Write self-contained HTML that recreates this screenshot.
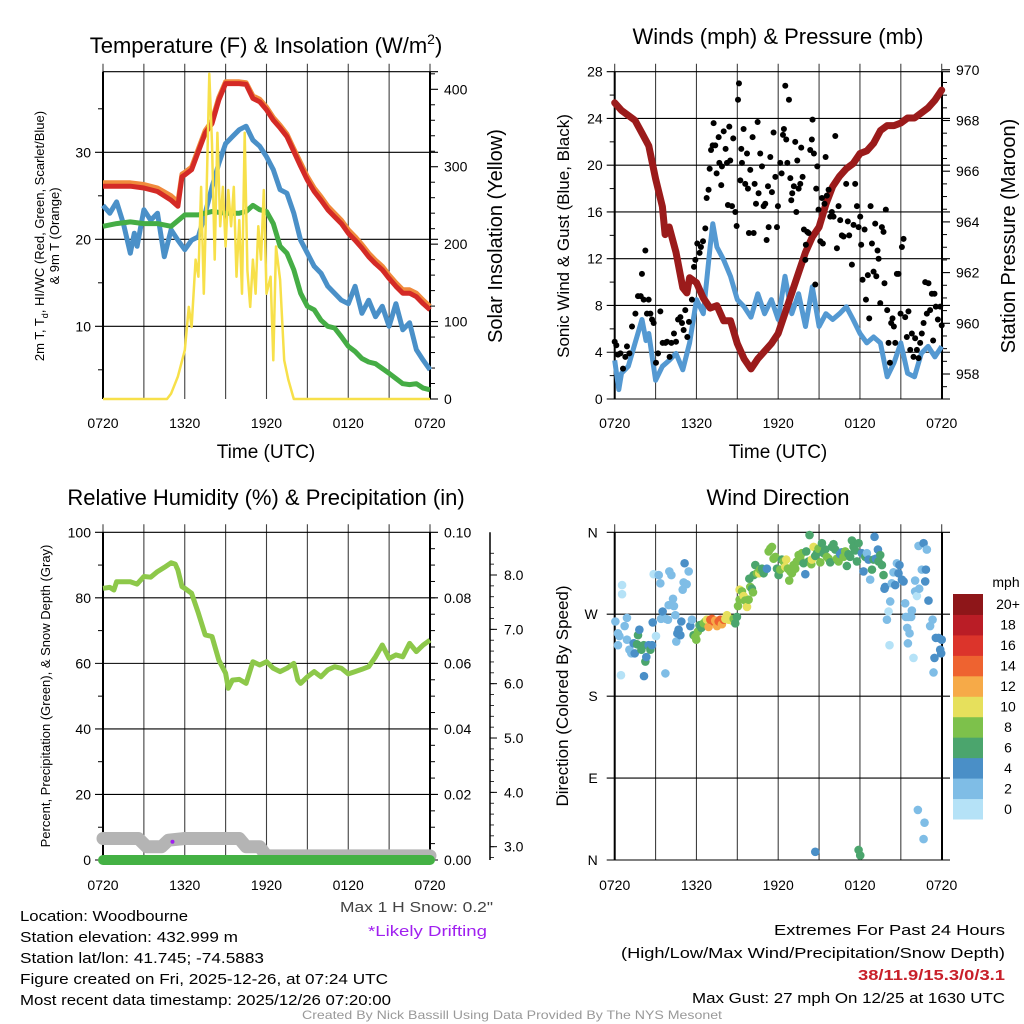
<!DOCTYPE html>
<html><head><meta charset="utf-8"><title>NYS Mesonet Woodbourne meteogram</title>
<style>
html,body{margin:0;padding:0;background:#fff;}
svg{display:block;font-family:"Liberation Sans",Arial,sans-serif;}
</style></head>
<body>
<svg id="fig" width="1024" height="1024" viewBox="0 0 1024 1024" xmlns="http://www.w3.org/2000/svg">
<rect width="1024" height="1024" fill="#fff"/>
</svg>
<script>
// ---------- DATA ----------
const xTickLabels = ["0720","1320","1920","0120","0720"];
const xTickHours = [0,6,12,18,24];

const tempTimes = [0,2,3,4,5,5.5,5.8,6,6.5,7,7.5,8,8.5,9,9.5,10,10.5,11,11.5,12,12.5,13,13.5,14,14.5,15,15.5,16,16.5,17,17.5,18,18.5,19,19.5,20,20.5,21,21.5,22,22.5,23,23.5,24];
const tempValues = [26.1,26.1,25.9,25.5,24.5,23.8,27.2,27.4,28,30.1,32.2,33.3,36,37.9,37.9,37.9,37.8,36.2,35.8,34.9,33.7,32.8,31.8,30.1,28.4,26.8,25.5,24.5,23.4,22.6,21.8,20.7,19.9,19,18,17.2,16.5,15.5,14.6,13.8,13.8,13.4,12.6,11.9];
const temp9mValues = [26.5,26.5,26.3,25.9,25,24.3,27.5,27.7,28.3,30.4,32.5,33.6,36.3,38.1,38.1,38.1,38,36.5,36.1,35.2,34,33.1,32.1,30.4,28.8,27.2,25.9,24.9,23.8,23,22.2,21.1,20.3,19.4,18.4,17.6,16.9,15.9,15,14.2,14.2,13.8,13,12.3];
const wcTimes = [0,0.5,1,1.5,2,2.3,2.5,3,3.5,4,4.5,5,5.5,6,6.5,7,7.5,8,8.5,9,9.5,10,10.5,11,11.5,12,12.5,13,13.5,14,14.5,15,15.5,16,16.5,17,17.5,18,18.5,19,19.5,20,20.5,21,21.5,22,22.5,23,23.5,24];
const wcValues = [23.9,23,24.3,21.8,18.4,20.7,19.2,23.4,22.2,23,18,21.1,19.9,18.8,19.9,20.3,23,26,28.7,31,31.8,32.6,33,31.4,30.7,29.5,28,25.7,25.3,23,19.9,18.4,16.9,16.1,14.6,13.8,13,12.6,14.6,11.5,13,11.1,12.3,10,12.6,9.6,10.4,7.3,6.1,5];
const dewTimes = [0,1,2,3,4,5,6,7,7.5,8,9,10,10.5,11,11.5,12,12.5,13,13.5,14,14.5,15,15.5,16,16.5,17,17.5,18,18.5,19,19.5,20,21,21.5,22,22.5,23,23.5,24];
const dewValues = [21.5,21.8,22,21.8,21.8,21.5,22.8,22.8,23,23.2,23,23,23.2,23.9,23.4,23.2,21.8,19.2,18.4,16.5,13.8,12.3,11.9,10.7,10,9.8,8.8,7.7,7.1,6.3,5.9,5.7,4.6,4,3.4,3.3,3.4,2.9,2.7];
const solarTimes = [0,4.7,5,5.5,6,6.3,6.5,6.8,7,7.2,7.4,7.6,7.8,8,8.2,8.4,8.6,8.8,9,9.2,9.4,9.6,9.8,10,10.2,10.4,10.6,10.8,11,11.2,11.4,11.6,11.8,12,12.3,12.5,12.7,13,13.3,13.6,14,24];
const solarValues = [0,0,7,29,63,119,93,180,158,274,136,266,420,330,180,344,223,274,197,270,223,274,158,231,136,344,166,119,180,136,223,180,270,136,158,50,197,154,50,25,0,0];

const presTimes = [0,0.5,1,1.5,2,2.5,3,3.5,3.7,4,4.5,5,5.3,5.5,6,6.5,7,7.5,8,8.5,9,9.5,10,10.5,11,11.5,12,12.5,13,13.5,14,14.5,15,15.5,16,16.5,17,17.5,18,18.5,19,19.5,20,20.5,21,21.5,22,22.5,23,23.5,24];
const presValues = [968.7,968.4,968.2,968,967.5,967,965.7,964.6,963.5,963.8,962.8,961.4,961.2,961.8,961.6,961,960.6,960.7,960.1,960.1,959.2,958.6,958.2,958.6,958.9,959.2,959.6,960.4,961.2,962,962.8,963.4,963.8,964.7,965.4,965.8,966.1,966.3,966.7,966.8,967.1,967.6,967.8,967.8,967.9,968.1,968.1,968.3,968.5,968.8,969.2];
const windTimes = [0,0.3,0.5,1,1.5,2,2.3,2.5,3,3.5,4,4.5,5,5.5,6,6.5,7,7.2,7.5,8,8.5,9,9.5,10,10.5,11,11.5,12,12.5,13,13.5,14,14.5,15,15.5,16,16.5,17,17.5,18,18.5,19,19.5,20,20.5,21,21.5,22,22.5,23,23.5,24];
const windValues = [3.3,0.8,2.2,2.8,4.8,6.8,5,5.6,1.6,2.8,3.3,3.9,2.5,4.8,8.5,7.3,13,15,13,11.9,10.5,8.5,7.9,7,9,7.3,8.5,6.8,10.5,7.3,9,6.2,9.6,6.2,7.3,6.8,7.3,7.9,6.8,5.6,4.8,5.3,4.8,1.9,3.1,4.8,2.2,1.9,3.9,4.5,3.6,4.5];
const gustTimes = [0,0.12,0.24,0.42,0.61,0.78,0.9,1.08,1.27,1.52,1.71,1.91,2,2.13,2.25,2.37,2.49,2.62,2.74,2.86,3.03,3.18,3.35,3.52,3.72,3.84,4.03,4.16,4.35,4.5,4.65,4.82,4.94,5.06,5.18,5.33,5.45,5.67,5.82,5.92,6.06,6.23,6.33,6.48,6.65,6.75,6.89,6.97,7.07,7.19,7.26,7.38,7.48,7.63,7.68,7.82,7.87,8,8.14,8.24,8.31,8.41,8.48,8.61,8.7,8.85,8.95,9.05,9.12,9.22,9.29,9.34,9.46,9.58,9.71,9.78,9.85,9.95,10.12,10.2,10.27,10.37,10.49,10.56,10.68,10.81,10.93,11.05,11.15,11.25,11.3,11.42,11.54,11.66,11.79,11.91,11.98,12.15,12.25,12.35,12.42,12.52,12.59,12.67,12.79,12.89,12.96,13.03,13.15,13.25,13.33,13.4,13.5,13.62,13.69,13.79,13.89,13.99,14.03,14.13,14.23,14.35,14.47,14.52,14.62,14.72,14.79,14.87,14.96,15.09,15.21,15.28,15.4,15.48,15.57,15.7,15.82,15.94,16.06,16.19,16.31,16.43,16.55,16.67,16.8,16.99,17.11,17.21,17.41,17.53,17.65,17.78,17.9,18.02,18.09,18.19,18.34,18.44,18.58,18.68,18.78,18.88,19,19.12,19.2,19.29,19.37,19.49,19.61,19.73,19.8,19.9,20,20.1,20.2,20.29,20.39,20.49,20.59,20.71,20.83,20.98,21.08,21.2,21.32,21.44,21.56,21.69,21.81,21.93,22.05,22.18,22.3,22.42,22.54,22.67,22.79,22.91,23.03,23.15,23.28,23.37,23.47,23.57,23.72,23.89,24];
const gustValues = [4.9,4.6,3.8,3.9,2.6,3.6,4.5,3.9,6.2,7.3,8.8,8.8,10.7,8.5,12.7,7.3,8.5,7.3,6.8,6.5,3.1,3.9,7.5,4.8,4.8,4.9,3.6,4.8,5.6,4.9,6.8,7,6.5,5.9,7.6,5.3,6.6,8.5,11.3,11.9,13.3,12.5,13,13.5,14.6,17.2,17.9,19.7,21.3,21.7,23.6,21.7,19.3,22.4,20.2,18.3,19.9,22.9,21.4,20.2,16.6,23.3,20.4,16.5,22.3,16,14.8,25.6,27,18.7,21.4,20.2,23.1,18.4,21,18,14.2,19.6,22.4,14.2,18.4,16.7,23.7,17.6,21,19.9,16.5,16.7,13.6,18.2,14.7,20.7,17.7,22.8,19,14.7,16.5,20.2,19.3,22.6,23.1,26.8,22.2,20.2,25.6,18.9,17,17.6,18.2,22,16,20.4,18,18.4,21.5,19,14.5,11.9,13.2,14.3,14.2,21.3,22.2,23.9,21,9.8,18,19.9,16.2,13.5,17.2,13.3,16.7,20.7,17.4,17.9,15.6,16,15.6,22.5,12.9,16.5,15.3,14,13.9,18.4,15.2,14,11.5,14.9,18.4,16.5,14.7,15.6,13.2,10.2,14.5,8.5,10.6,6.9,16.5,13.3,10.9,15,10.5,12.7,12,8.2,14.7,14.3,9.9,16.2,7.6,4.8,3.1,6.5,6.9,6.2,4.8,10.7,10.7,7.3,13,13.7,7,5.3,7.5,4.2,5.6,3.6,5.2,4.2,3.5,4.8,5.6,6.5,10,7.3,9.9,7.6,9,5,9,7.9,6.8,7.9,6.3];

const rhTimes = [0,0.5,0.8,1,1.5,2,2.5,3,3.5,4,4.5,5,5.3,5.5,5.8,6,6.5,7,7.5,8,8.5,9,9.2,9.5,10,10.5,11,11.5,12,12.5,13,13.5,14,14.3,14.5,15,15.5,16,16.5,17,17.5,18,18.5,19,19.5,20,20.5,21,21.5,22,22.5,23,23.5,24];
const rhValues = [82.9,83.2,82.4,84.9,84.9,84.9,84.2,86.5,86.3,88,89.3,90.7,90.3,88.5,83.4,82.9,81.4,75.3,68.7,68.2,61,57,52.4,54.9,55.1,53.9,60.5,59.5,60.5,58.5,57.5,58.5,60,54.9,53.9,55.9,57.5,55.9,58,59,58.5,56.8,57.5,58.2,59,62,65.6,61.5,62.6,62,66.1,63.6,65.6,67.1];
const precipTimes = [0,24];
const precipValues = [0,0];
const snowTimes = [0,2.6,3.2,4.3,4.8,6,10,10.5,11.5,12,24];
const snowValues = [3.15,3.15,3.0,3.0,3.12,3.15,3.15,3.0,3.0,2.83,2.83];
const driftTimes = [5.1];
const driftValues = [3.09];

const dirTimes = [0.05,0.24,0.34,0.24,0.54,0.54,0.46,0.73,0.9,0.9,1.08,1.22,1.39,1.47,1.64,1.71,1.81,1.96,2.13,2.15,2.25,2.32,2.49,2.62,2.74,2.79,2.86,3.03,3.23,3.35,3.4,3.52,3.72,3.77,3.91,3.96,4.01,4.16,4.28,4.35,4.45,4.52,4.6,4.69,4.82,4.89,4.99,5.06,5.13,5.28,5.43,5.55,5.67,5.79,5.92,5.99,6.11,6.23,6.36,6.53,6.65,6.77,6.89,7.02,7.14,7.26,7.38,7.51,7.63,7.75,7.87,8,8.12,8.24,8.36,8.48,8.61,8.73,8.85,8.97,9.05,9.17,9.17,9.34,9.46,9.58,9.71,9.83,9.95,10.07,10.15,9.88,10.2,10.32,10.44,10.61,10.68,10.81,10.93,11.05,11.17,11.3,11.42,11.54,11.66,11.79,11.91,12.03,12.15,12.27,12.4,12.52,12.59,12.71,12.81,12.89,13.01,13.13,13.25,13.37,13.5,13.62,13.74,13.86,13.99,14.06,14.23,14.3,14.43,14.47,14.6,14.72,14.84,14.96,15.09,15.21,15.33,15.45,15.57,15.7,15.82,15.94,16.06,16.19,16.31,16.43,16.55,16.67,16.8,16.92,17.04,17.16,17.28,17.41,17.53,17.65,17.78,17.9,18.14,18.26,18.39,18.51,18.63,18.75,18.88,19,19.07,19.17,19.32,19.36,19.49,19.61,19.73,19.8,19.85,19.98,20.1,20.17,20.22,20.34,20.46,20.59,20.71,20.83,20.9,21.08,21.2,21.32,21.37,21.47,21.52,21.56,21.64,21.76,21.81,21.93,22.05,22.05,22.18,22.3,22.35,22.54,22.67,22.79,22.84,22.91,23.03,23.15,23.33,23.4,23.47,23.57,23.77,23.89,24,23.96,22.25,22.74,22.67,14.72,17.9,18.02];
const dirValues = [262,249,246,236,302,292,203,257,266,242,231,227,238,227,237,247,253,231,236,202,218,223,236,231,236,261,314,246,313,304,265,273,205,265,264,280,317,313,287,279,269,240,249,253,247,262,297,305,326,303,317,257,264,247,245,242,251,258,255,260,262,264,256,264,265,262,263,257,262,264,259,264,265,269,264,265,263,265,260,267,279,286,297,295,290,285,278,286,300,298,294,309,313,324,315,315,319,320,315,319,320,339,342,344,331,333,320,313,319,330,328,322,330,320,307,317,315,324,320,328,335,331,337,326,314,339,328,357,325,330,344,334,337,342,327,348,337,341,333,331,327,344,347,341,331,328,336,338,333,339,323,336,333,351,344,340,328,348,337,317,333,337,330,308,319,330,355,331,341,328,335,324,313,298,300,264,273,236,284,304,316,302,326,315,324,308,306,282,267,255,238,267,249,267,274,222,307,295,290,345,298,319,348,306,319,341,285,257,264,206,222,244,244,231,242,227,55,41,23,9,11,5];
const dirSpeeds = [2,2,2,2,0,0,0,2,2,2,
 2,2,4,4,6,6,4,6,6,4,
 6,4,4,6,4,4,0,0,2,2,
 2,4,2,2,2,2,2,2,2,2,
 2,2,4,4,4,4,2,2,4,2,
 2,4,2,6,8,8,8,6,6,8,
 8,10,12,14,14,14,12,12,14,14,
 12,14,10,10,10,10,10,8,6,6,
 8,8,10,8,10,8,10,8,8,6,
 8,6,6,6,8,10,8,6,6,6,
 4,8,8,8,8,8,6,6,8,6,
 8,10,10,8,8,8,8,8,8,8,
 8,8,8,6,4,6,6,6,8,10,
 10,6,6,8,8,6,6,6,8,8,
 6,6,6,6,8,8,4,4,8,8,
 6,6,6,6,6,6,6,6,4,4,
 6,2,4,2,6,6,4,4,4,6,
 6,6,6,4,4,2,0,0,2,2,
 2,4,2,4,4,4,4,2,2,2,
 2,2,2,2,2,0,2,2,0,2,
 2,2,4,4,4,2,4,2,2,2,
 4,4,4,4,4,4,2,2,2,4,
 6,6];
const speedBinLabels = ["0","2","4","6","8","10","12","14","16","18","20+"];
const speedBinColors = ["#b5e2f7","#7fbde6","#4a8fc7","#4ba56d","#7dc14b","#e6e05c","#f6aa48","#ee6330","#dc342b","#ba1d26","#8e1619"];

// ---------- HELPERS ----------
const NS="http://www.w3.org/2000/svg";
const svg=document.getElementById('fig');
function mk(tag, attrs, parent){const e=document.createElementNS(NS,tag);for(const k in attrs)e.setAttribute(k,attrs[k]);(parent||svg).appendChild(e);return e;}
function txt(s, attrs, parent){const e=mk('text',attrs,parent);e.textContent=s;return e;}
const XW=327/24;
function xs(x0){return h=>x0+h*XW;}
function linear(v0,p0,v1,p1){return v=>p0+(v-v0)*(p1-p0)/(v1-v0);}
function pathFrom(ts,vs,X,Y){let d='';for(let i=0;i<ts.length;i++){d+=(i?'L':'M')+X(ts[i]).toFixed(1)+' '+Y(vs[i]).toFixed(1);}return d;}

function frame(x0,y0,x1,y1,name){
  const g=mk('g',{});
  
  
  return g;
}
function grid(g,X,y0,y1,hours){
  hours.forEach(h=>{const l=mk('line',{x1:X(h),x2:X(h),y1:y0-8,y2:y1,stroke:'#000','stroke-width':1.1,'stroke-opacity':0.75},g);
  
  });
}
function xLabels(g,X,y){
  xTickHours.forEach((h,i)=>{const t=txt(xTickLabels[i],{x:X(h),y:y,'font-size':14,'text-anchor':'middle'},g);
  
  });
}
function hLine(g,x0,x1,y){return mk('line',{x1:x0,x2:x1,y1:y,y2:y,stroke:'#000','stroke-width':1.1},g);}
const gridHours=[0,3,6,9,12,15,18,21,24];

// ---------- PANEL 1 ----------
(function(){
  const x0=103,x1=430,top=71.7,bot=399;
  const X=xs(x0), Y=linear(10,326.3,30,152.3), YS=linear(0,399,400,89.3);
  const g=frame(x0,top,x1,bot,'temperature-panel');
  grid(g,X,top,bot,gridHours);
  [10,20,30].forEach(v=>{const l=hLine(g,x0-8,x1+8,Y(v));
    
    
    const t=txt(String(v),{x:x0-12,y:Y(v)+5,'font-size':14,'text-anchor':'end'},g);
    
    });
  [5,15,25,35].forEach(v=>mk('line',{x1:x0-5,x2:x0,y1:Y(v),y2:Y(v),stroke:'#000'},g));
  hLine(g,x0,x1+8,top);
  [0,100,200,300,400].forEach(v=>{hLine(g,x1,x1+8,YS(v));
    const t=txt(String(v),{x:x1+14,y:YS(v)+5,'font-size':14},g);
    
    });
  for(let v=20;v<=420;v+=20){if(v%100)mk('line',{x1:x1,x2:x1+5,y1:YS(v),y2:YS(v),stroke:'#000'},g);}
  mk('line',{x1:x0,x2:x0,y1:top,y2:bot,stroke:'#000','stroke-width':2},g);
  mk('line',{x1:x1,x2:x1,y1:top,y2:bot,stroke:'#000','stroke-width':2},g);
  xLabels(g,X,428);
  const s1=mk('path',{d:pathFrom(tempTimes,temp9mValues,X,Y),fill:'none',stroke:'#f08a3c','stroke-width':5,'stroke-linejoin':'round'},g);
  
  
  const s2=mk('path',{d:pathFrom(tempTimes,tempValues,X,Y),fill:'none',stroke:'#d42a26','stroke-width':5,'stroke-linejoin':'round'},g);
  
  
  const s3=mk('path',{d:pathFrom(wcTimes,wcValues,X,Y),fill:'none',stroke:'#4a90c8','stroke-width':5,'stroke-linejoin':'round'},g);
  
  
  const s4=mk('path',{d:pathFrom(dewTimes,dewValues,X,Y),fill:'none',stroke:'#45ad45','stroke-width':5,'stroke-linejoin':'round'},g);
  
  
  const s5=mk('path',{d:pathFrom(solarTimes,solarValues,X,YS),fill:'none',stroke:'#f7e04a','stroke-width':2.5,'stroke-linejoin':'round'},g);
  
  
  const tt=txt('',{x:266,y:53,'font-size':22,'text-anchor':'middle'},g);
  tt.innerHTML='Temperature (F) &amp; Insolation (W/m<tspan dy="-9" font-size="14">2</tspan><tspan dy="9">)</tspan>';
  
  
  const xt=txt('Time (UTC)',{x:266,y:458,'font-size':19,'text-anchor':'middle'},g);
  
  
  const yt=txt('',{transform:'translate(44,236) rotate(-90)','font-size':13,'text-anchor':'middle'},g);
  yt.innerHTML='2m T, T<tspan dy="4" font-size="9">d</tspan><tspan dy="-4">, HI/WC (Red, Green, Scarlet/Blue)</tspan>';
  
  
  const yt2=txt('& 9m T (Orange)',{transform:'translate(59,236) rotate(-90)','font-size':13,'text-anchor':'middle'},g);
  
  
  const yr=txt('Solar Insolation (Yellow)',{transform:'translate(502,236) rotate(-90)','font-size':20,'text-anchor':'middle'},g);
  
  
})();

// ---------- PANEL 2 ----------
(function(){
  const x0=614.7,x1=942,top=71.7,bot=399;
  const X=xs(x0), Y=linear(0,399,28,71.7), YP=linear(958,374,960,323.3);
  const g=frame(x0,top,x1,bot,'winds-panel');
  grid(g,X,top,bot,gridHours);
  [0,4,8,12,16,20,24,28].forEach(v=>{const l=hLine(g,x0-8,x1+8,Y(v));
    
    
    const t=txt(String(v),{x:x0-12,y:Y(v)+5,'font-size':14,'text-anchor':'end'},g);
    
    });
  for(let v=2;v<28;v+=4)mk('line',{x1:x0-5,x2:x0,y1:Y(v),y2:Y(v),stroke:'#000'},g);
  [958,960,962,964,966,968,970].forEach(v=>{hLine(g,x1,x1+8,YP(v));
    const t=txt(String(v),{x:x1+14,y:YP(v)+5,'font-size':14},g);
    
    });
  for(let v=957.5;v<970;v+=0.5){if(v%2)mk('line',{x1:x1,x2:x1+5,y1:YP(v),y2:YP(v),stroke:'#000'},g);}
  mk('line',{x1:x0,x2:x0,y1:top,y2:bot,stroke:'#000','stroke-width':2},g);
  mk('line',{x1:x1,x2:x1,y1:top,y2:bot,stroke:'#000','stroke-width':2},g);
  xLabels(g,X,428);
  const w=mk('path',{d:pathFrom(windTimes,windValues,X,Y),fill:'none',stroke:'#5499d2','stroke-width':5,'stroke-linejoin':'round'},g);
  
  
  const p=mk('path',{d:pathFrom(presTimes,presValues,X,YP),fill:'none',stroke:'#9b1b1b','stroke-width':7,'stroke-linejoin':'round','stroke-linecap':'round'},g);
  
  
  const gg=mk('g',{},g);
  
  
  for(let i=0;i<gustTimes.length;i++){
    const c=mk('circle',{cx:X(gustTimes[i]),cy:Y(gustValues[i]),r:3,fill:'#000'},gg);
    
    
  }
  const tt=txt('Winds (mph) & Pressure (mb)',{x:778,y:44,'font-size':22,'text-anchor':'middle'},g);
  
  
  const xt=txt('Time (UTC)',{x:778,y:458,'font-size':19,'text-anchor':'middle'},g);
  
  
  const yl=txt('Sonic Wind & Gust (Blue, Black)',{transform:'translate(569,236) rotate(-90)','font-size':17,'text-anchor':'middle'},g);
  
  
  const yr=txt('Station Pressure (Maroon)',{transform:'translate(1015,236) rotate(-90)','font-size':20,'text-anchor':'middle'},g);
  
  
})();

// ---------- PANEL 3 ----------
(function(){
  const x0=103,x1=430,top=532.3,bot=860;
  const X=xs(x0), Y=linear(0,860,100,532.3), YR=linear(0,860,0.1,532.3), YSn=linear(3,846.7,8,575);
  const g=frame(x0,top,x1,bot,'humidity-panel');
  grid(g,X,top,bot,gridHours);
  [0,20,40,60,80,100].forEach(v=>{const l=hLine(g,x0-8,x1+8,Y(v));
    
    
    const t=txt(String(v),{x:x0-12,y:Y(v)+5,'font-size':14,'text-anchor':'end'},g);
    
    });
  for(let v=10;v<100;v+=20)mk('line',{x1:x0-5,x2:x0,y1:Y(v),y2:Y(v),stroke:'#000'},g);
  ['0.00','0.02','0.04','0.06','0.08','0.10'].forEach(s=>{
    const t=txt(s,{x:x1+14,y:YR(parseFloat(s))+5,'font-size':14},g);
    
    });
  for(let v=0.005;v<0.1;v+=0.005)mk('line',{x1:x1,x2:x1+5,y1:YR(v),y2:YR(v),stroke:'#000'},g);
  mk('line',{x1:x0,x2:x0,y1:top,y2:bot,stroke:'#000','stroke-width':2},g);
  mk('line',{x1:x1,x2:x1,y1:top,y2:bot,stroke:'#000','stroke-width':2},g);
  const ax=mk('line',{x1:490,x2:490,y1:top,y2:bot,stroke:'#000','stroke-width':1.5},g);
  
  
  ['3.0','4.0','5.0','6.0','7.0','8.0'].forEach(s=>{mk('line',{x1:490,x2:497,y1:YSn(parseFloat(s)),y2:YSn(parseFloat(s)),stroke:'#000'},g);
    const t=txt(s,{x:504,y:YSn(parseFloat(s))+5,'font-size':14},g);
    
    });
  for(let v=2.8;v<8.6;v+=0.2)mk('line',{x1:490,x2:494,y1:YSn(v),y2:YSn(v),stroke:'#000','stroke-width':0.8},g);
  xLabels(g,X,890);
  const sn=mk('path',{d:pathFrom(snowTimes,snowValues,X,YSn),fill:'none',stroke:'#b4b4b4','stroke-width':13,'stroke-linejoin':'round','stroke-linecap':'round'},g);
  
  
  const pr=mk('path',{d:pathFrom(precipTimes,precipValues,X,YR),fill:'none',stroke:'#44b144','stroke-width':10,'stroke-linecap':'round'},g);
  
  
  const rh=mk('path',{d:pathFrom(rhTimes,rhValues,X,Y),fill:'none',stroke:'#8dc84a','stroke-width':5,'stroke-linejoin':'round'},g);
  
  
  for(let i=0;i<driftTimes.length;i++){
    const c=mk('circle',{cx:X(driftTimes[i]),cy:YSn(driftValues[i]),r:2,fill:'#a020f0'},g);
    
    
  }
  const tt=txt('Relative Humidity (%) & Precipitation (in)',{x:266,y:505,'font-size':22,'text-anchor':'middle'},g);
  
  
  const yl=txt('Percent, Precipitation (Green), & Snow Depth (Gray)',{transform:'translate(50,696) rotate(-90)','font-size':13,'text-anchor':'middle'},g);
  
  
})();

// ---------- PANEL 4 ----------
(function(){
  const x0=614.7,x1=942,top=532.3,bot=860;
  const X=xs(x0), Y=linear(0,860,360,532.3);
  const g=frame(x0,top,x1,bot,'wind-direction-panel');
  grid(g,X,top,bot,gridHours);
  const dl=['N','E','S','W','N'];
  [0,90,180,270,360].forEach((v,i)=>{const l=hLine(g,x0-8,x1+8,Y(v));
    
    
    const t=txt(dl[i],{x:x0-17,y:Y(v)+5,'font-size':14,'text-anchor':'end'},g);
    
    });
  mk('line',{x1:x0,x2:x0,y1:top,y2:bot,stroke:'#000','stroke-width':2},g);
  mk('line',{x1:x1,x2:x1,y1:top,y2:bot,stroke:'#000','stroke-width':2},g);
  xLabels(g,X,890);
  const dg=mk('g',{},g);
  
  
  const n=Math.min(dirTimes.length,dirValues.length);
  for(let i=0;i<n;i++){
    const sp=(dirSpeeds[i]===undefined)?2:dirSpeeds[i];
    const bin=Math.min(10,Math.max(0,Math.floor(sp/2)));
    const c=mk('circle',{cx:X(dirTimes[i]),cy:Y(dirValues[i]),r:4.3,fill:speedBinColors[bin]},dg);
    
    
  }
  const cb=mk('g',{},g);
  
  
  const cbTop=594,cbBot=819,bh=(cbBot-cbTop)/speedBinColors.length;
  speedBinColors.forEach((c,i)=>{
    const y=cbBot-(i+1)*bh;
    const r=mk('rect',{x:953,y:y,width:30,height:bh+0.5,fill:c},cb);
    
    
    const t=txt(speedBinLabels[i],{x:1008,y:y+bh/2+5,'font-size':14,'text-anchor':'middle'},cb);
    
    
  });
  const u=txt('mph',{x:1006,y:587,'font-size':14,'text-anchor':'middle'},cb);
  
  
  const tt=txt('Wind Direction',{x:778,y:505,'font-size':22,'text-anchor':'middle'},g);
  
  
  const yl=txt('Direction (Colored By Speed)',{transform:'translate(568,696) rotate(-90)','font-size':17,'text-anchor':'middle'},g);
  
  
})();

// ---------- FOOTER ----------
(function(){
  const g=mk('g',{});
  
  
  const lines=[['Location: Woodbourne',921,168,'location-text'],['Station elevation: 432.999 m',942,218,'elevation-text'],['Station lat/lon: 41.745; -74.5883',963,244,'latlon-text'],['Figure created on Fri, 2025-12-26, at 07:24 UTC',984,368,'created-text'],['Most recent data timestamp: 2025/12/26 07:20:00',1005,371,'timestamp-text']];
  lines.forEach(l=>{const t=txt(l[0],{x:20,y:l[1],'font-size':15,textLength:l[2],lengthAdjust:'spacingAndGlyphs'},g);
    
    });
  const r=[['Extremes For Past 24 Hours',935,231,'#000','normal','extremes-title'],['(High/Low/Max Wind/Precipitation/Snow Depth)',958,384,'#000','normal','extremes-legend'],['38/11.9/15.3/0/3.1',980,147,'#c8202a','bold','extremes-values'],['Max Gust: 27 mph On 12/25 at 1630 UTC',1003,313,'#000','normal','max-gust-text']];
  r.forEach(l=>{const t=txt(l[0],{x:1005,y:l[1],'font-size':15,'text-anchor':'end',fill:l[3],'font-weight':l[4],textLength:l[2],lengthAdjust:'spacingAndGlyphs'},g);
    
    });
  const s=txt('Max 1 H Snow: 0.2"',{x:493,y:912,'font-size':15,'text-anchor':'end',fill:'#444',textLength:153,lengthAdjust:'spacingAndGlyphs'},g);
  
  
  const d=txt('*Likely Drifting',{x:487,y:936,'font-size':15,'text-anchor':'end',fill:'#a020f0',textLength:119,lengthAdjust:'spacingAndGlyphs'},g);
  
  
  const c=txt('Created By Nick Bassill Using Data Provided By The NYS Mesonet',{x:512,y:1019,'font-size':12,'text-anchor':'middle',fill:'#999',textLength:420,lengthAdjust:'spacingAndGlyphs'},g);
  
  
})();
</script>
</body></html>
